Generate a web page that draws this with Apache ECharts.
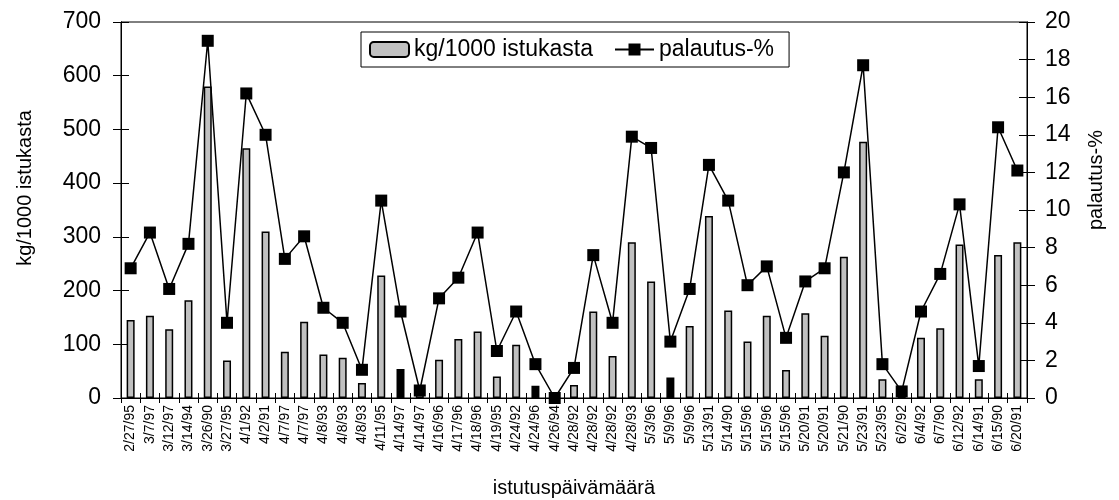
<!DOCTYPE html>
<html>
<head>
<meta charset="utf-8">
<script src="https://cdn.jsdelivr.net/npm/echarts@6/dist/echarts.min.js"></script>
<style>
  html, body { margin: 0; padding: 0; background: #fff; }
  #chart { width: 1119px; height: 500px; }
</style>
</head>
<body>
<div id="chart"></div>
<script>
const dates = [
  '2/27/95', '3/7/97', '3/12/97', '3/14/94', '3/26/90', '3/27/95', '4/1/92', '4/2/91',
  '4/7/97', '4/7/97', '4/8/93', '4/8/93', '4/8/93', '4/11/95', '4/14/97', '4/14/97',
  '4/16/96', '4/17/96', '4/18/96', '4/19/95', '4/24/92', '4/24/96', '4/26/94', '4/28/92',
  '4/28/92', '4/28/92', '4/28/93', '5/3/96', '5/9/96', '5/9/96', '5/13/91', '5/14/90',
  '5/15/96', '5/15/96', '5/15/96', '5/20/91', '5/20/91', '5/21/90', '5/23/91', '5/23/95',
  '6/2/92', '6/4/92', '6/7/90', '6/12/92', '6/14/91', '6/15/90', '6/20/91'
]
// kg/1000 istukasta
const kgValues = [
  145, 153, 128, 182, 580, 70, 465, 310,
  86, 142, 81, 75, 28, 228, 54, 10,
  71, 110, 124, 40, 99, 23, 0, 24,
  161, 78, 290, 217, 38, 134, 339, 163,
  105, 153, 52, 158, 116, 263, 477, 35,
  5, 112, 130, 286, 35, 266, 290
]
// palautus-%
const palautusValues = [
  6.9, 8.8, 5.8, 8.2, 19.0, 4.0, 16.2, 14.0,
  7.4, 8.6, 4.8, 4.0, 1.5, 10.5, 4.6, 0.4,
  5.3, 6.4, 8.8, 2.5, 4.6, 1.8, 0.0, 1.6,
  7.6, 4.0, 13.9, 13.3, 3.0, 5.8, 12.4, 10.5,
  6.0, 7.0, 3.2, 6.2, 6.9, 12.0, 17.7, 1.8,
  0.35, 4.6, 6.6, 10.3, 1.7, 14.4, 12.1
]
// bars drawn black in the original
const darkBars = [14, 21, 28]

const font = 'Liberation Sans, Arial, Helvetica, sans-serif'
const chart = echarts.init(document.getElementById('chart'))

const axisLine = { show: true, lineStyle: { color: '#000', width: 1 } }
const noLabel = { show: false }

chart.setOption({
  animation: false,
  textStyle: { fontFamily: font, color: '#000' },
  grid: {
    left: 121, right: 92, top: 22, bottom: 102,
    containLabel: false,
    outerBoundsMode: 'none',
    show: true, borderColor: '#000', borderWidth: 1
  },
  legend: {
    left: 361,
    top: 32,
    padding: [6, 15, 6, 8],
    borderColor: '#000',
    borderWidth: 1,
    itemWidth: 39,
    itemHeight: 15,
    itemGap: 21,
    textStyle: { fontFamily: font, fontSize: 23, lineHeight: 23, color: '#000' },
    data: ['kg/1000 istukasta', 'palautus-%']
  },
  xAxis: [
    {
      type: 'category',
      data: dates,
      name: 'istutuspäivämäärä',
      nameLocation: 'middle',
      nameGap: 80,
      nameTextStyle: { fontFamily: font, fontSize: 20, color: '#000' },
      axisLine,
      axisTick: { show: true, interval: 0, length: 5, lineStyle: { color: '#000' } },
      axisLabel: { interval: 0, rotate: 90, fontSize: 14, color: '#000', margin: 7 }
    },
    {
      type: 'category',
      data: dates,
      position: 'bottom',
      axisLine,
      axisTick: { show: true, inside: true, interval: 0, length: 5, lineStyle: { color: '#000' } },
      axisLabel: noLabel
    }
  ],
  yAxis: [
    {
      type: 'value',
      min: 0, max: 700, interval: 100,
      position: 'left',
      name: 'kg/1000 istukasta',
      nameLocation: 'middle',
      nameRotate: 90,
      nameGap: 86,
      nameTextStyle: { fontFamily: font, fontSize: 20, color: '#000', padding: [0, 0, 0, 44] },
      axisLine,
      axisTick: { show: true, length: 8, lineStyle: { color: '#000' } },
      axisLabel: { fontSize: 23, color: '#000', margin: 20 },
      splitLine: { show: false }
    },
    {
      type: 'value',
      min: 0, max: 20, interval: 2,
      position: 'right',
      name: 'palautus-%',
      nameLocation: 'middle',
      nameRotate: 90,
      nameGap: 59,
      nameTextStyle: { fontFamily: font, fontSize: 20, color: '#000', padding: [0, 0, 0, 60] },
      axisLine,
      axisTick: { show: true, length: 8, lineStyle: { color: '#000' } },
      axisLabel: { fontSize: 23, color: '#000', margin: 18 },
      splitLine: { show: false }
    },
    {
      type: 'value',
      min: 0, max: 700, interval: 100,
      position: 'left',
      axisLine,
      axisTick: { show: true, inside: true, length: 8, lineStyle: { color: '#000' } },
      axisLabel: noLabel,
      splitLine: { show: false }
    },
    {
      type: 'value',
      min: 0, max: 20, interval: 2,
      position: 'right',
      axisLine,
      axisTick: { show: true, inside: true, length: 8, lineStyle: { color: '#000' } },
      axisLabel: noLabel,
      splitLine: { show: false }
    }
  ],
  series: [
    {
      name: 'kg/1000 istukasta',
      type: 'bar',
      yAxisIndex: 0,
      barWidth: 8,
      itemStyle: { color: '#c0c0c0', borderColor: '#000', borderWidth: 1.5 },
      data: kgValues.map((v, i) => darkBars.includes(i)
        ? { value: v, itemStyle: { color: '#000' } }
        : v)
    },
    {
      name: 'palautus-%',
      type: 'line',
      yAxisIndex: 1,
      symbol: 'rect',
      symbolSize: 12,
      lineStyle: { color: '#000', width: 1.5 },
      itemStyle: { color: '#000' },
      data: palautusValues,
      z: 3
    }
  ]
})
</script>
</body>
</html>
